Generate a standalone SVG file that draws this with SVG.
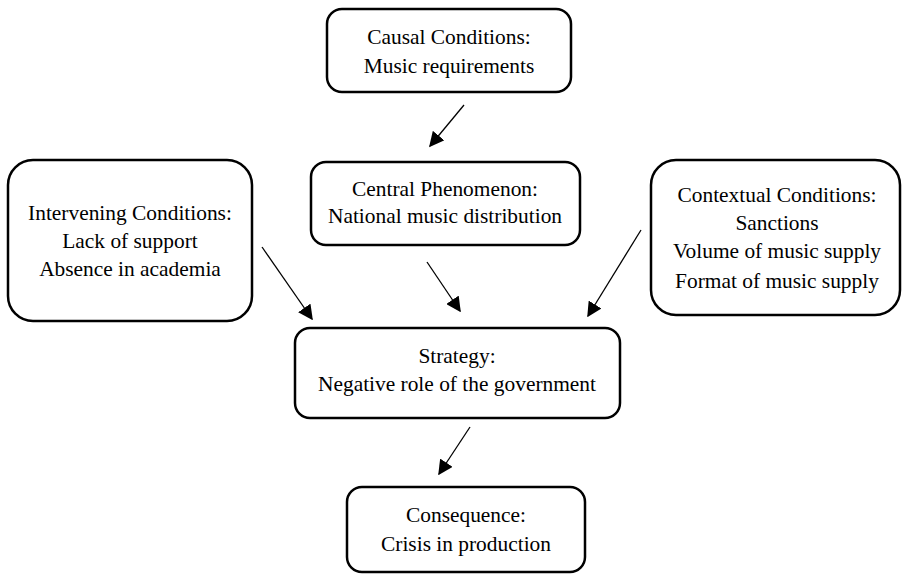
<svg xmlns="http://www.w3.org/2000/svg" width="902" height="574" viewBox="0 0 902 574">
<style>
.box{fill:#fff;stroke:#000;stroke-width:2.5}
text{font-family:"Liberation Serif","Times New Roman",serif;font-size:21.4px;fill:#000;text-anchor:middle}
.con line{stroke:#000;stroke-width:1.3;marker-end:url(#ah)}
</style>
<defs>
<marker id="ah" viewBox="0 0 10 10" refX="9" refY="5" markerWidth="15" markerHeight="15" markerUnits="userSpaceOnUse" orient="auto">
<path d="M0,0 L10,5 L0,10 z" fill="#000"/>
</marker>
</defs>
<rect width="902" height="574" fill="#fff"/>
<g id="causal"><rect class="box" x="327" y="9" width="244" height="83" rx="15"/>
<text x="449" y="44">Causal Conditions:</text><text x="449" y="73">Music requirements</text></g>
<g id="central"><rect class="box" x="311" y="162" width="269" height="83" rx="15"/>
<text x="445" y="196">Central Phenomenon:</text><text x="445" y="223">National music distribution</text></g>
<g id="intervening"><rect class="box" x="8" y="160" width="244" height="161" rx="25"/>
<text x="130" y="220">Intervening Conditions:</text><text x="130" y="248">Lack of support</text><text x="130" y="276">Absence in academia</text></g>
<g id="contextual"><rect class="box" x="651" y="160" width="249" height="155" rx="25"/>
<text x="777" y="202">Contextual Conditions:</text><text x="777" y="230">Sanctions</text><text x="777" y="258">Volume of music supply</text><text x="777" y="288">Format of music supply</text></g>
<g id="strategy"><rect class="box" x="295" y="328" width="325" height="90" rx="15"/>
<text x="457" y="363">Strategy:</text><text x="457" y="391">Negative role of the government</text></g>
<g id="consequence"><rect class="box" x="347" y="487" width="238" height="85" rx="15"/>
<text x="466" y="522">Consequence:</text><text x="466" y="551">Crisis in production</text></g>
<g class="con" id="connectors">
<line x1="464" y1="105" x2="430" y2="146"/>
<line x1="262" y1="247" x2="312" y2="319"/>
<line x1="427" y1="262" x2="460" y2="311"/>
<line x1="641" y1="230" x2="588" y2="316"/>
<line x1="470" y1="427" x2="439" y2="474"/>
</g>
</svg>
